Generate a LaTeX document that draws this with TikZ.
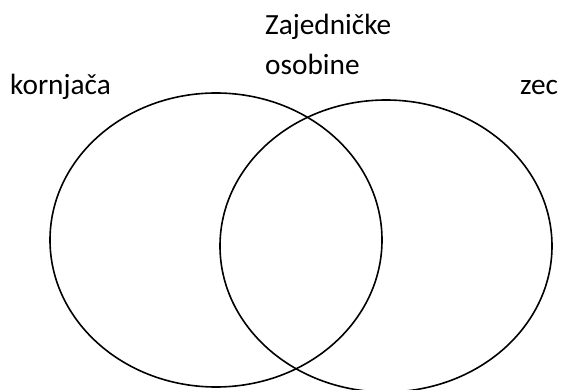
\documentclass[tikz,border=0pt]{standalone}
\usepackage{fontspec}
\setmainfont{Carlito}
\begin{document}
\begin{tikzpicture}[x=1pt,y=-1pt,
  lbl/.style={font=\fontsize{29.3}{40}\selectfont, inner sep=0pt, anchor=base west},
  ring/.style={draw=black, line width=1.6pt}]
\useasboundingbox (0,0) rectangle (563,390);
\draw[ring] (216,240) ellipse [x radius=166, y radius=147];
\draw[ring] (386,246) ellipse [x radius=166, y radius=146];
\node[lbl] (zaj) at (265,35) {Zajedničke};
\node[lbl] (oso) at (265,75) {osobine};
\node[lbl] (kor) at (10,95) {kornjača};
\node[lbl] (zec) at (520,95) {zec};
\end{tikzpicture}
\end{document}
